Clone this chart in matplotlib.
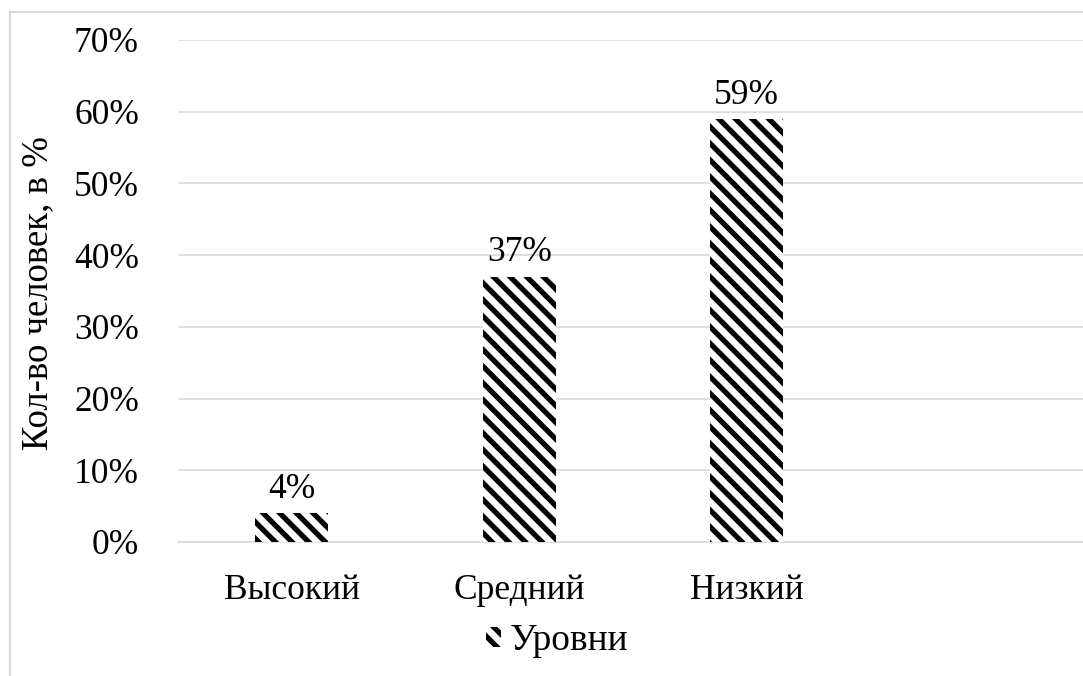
import matplotlib
matplotlib.use("Agg")
import matplotlib.pyplot as plt
from matplotlib.patches import Rectangle
from matplotlib.ticker import PercentFormatter

plt.rcParams['font.family'] = ['Liberation Serif', 'DejaVu Serif']
plt.rcParams['hatch.linewidth'] = 3.8

# данные
urovni = ['Высокий', 'Средний', 'Низкий']
znach = [4, 37, 59]
yticks = [0, 10, 20, 30, 40, 50, 60, 70]

W, H = 1083, 676
FS = 25.5
fig = plt.figure(figsize=(W / 100, H / 100), dpi=100)

# рамка диаграммы
fig.patches.append(Rectangle((10 / W, -0.05), 1.1, 1 - 12 / H + 0.05,
                             transform=fig.transFigure, fill=False,
                             edgecolor='#d9d9d9', linewidth=1.5))

# область построения (4 слота, последний пустой)
x0, x1 = 178 / W, 1088 / W
y0, y1 = 1 - 542 / H, 1 - 40 / H
ax = fig.add_axes([x0, y0, x1 - x0, y1 - y0])

pos = list(range(len(urovni)))
bars = ax.bar(pos, znach, width=0.32, color='white', edgecolor='black',
              hatch='\\\\', linewidth=0, label='Уровни', zorder=3)

for p, v in zip(pos, znach):
    ax.text(p, v + 1.0, str(v) + '%', ha='center', va='bottom', fontsize=FS)

ax.set_xlim(-0.5, 3.5)
ax.set_ylim(0, 70)
ax.set_yticks(yticks)
ax.yaxis.set_major_formatter(PercentFormatter(decimals=0))
ax.set_xticks(pos)
ax.set_xticklabels(urovni)
ax.tick_params(axis='y', length=0, pad=28, labelsize=FS)
ax.tick_params(axis='x', length=0, pad=23, labelsize=FS)
ax.grid(axis='y', color='#d9d9d9', linewidth=1.2, zorder=0)
ax.set_axisbelow(True)
for s in ['top', 'right', 'left']:
    ax.spines[s].set_visible(False)
ax.spines['bottom'].set_color('#d9d9d9')
ax.spines['bottom'].set_linewidth(1.2)

fig.text(38 / W, 1 - 293 / H, 'Кол-во человек, в %', rotation=90,
         ha='center', va='center', fontsize=26.5)

leg = fig.legend(handles=[bars], loc='center', bbox_to_anchor=(557 / W, 1 - 641 / H),
                 frameon=False, fontsize=27, handlelength=0.4, handleheight=0.45,
                 handletextpad=0.25)

fig.savefig('out.png', dpi=100)
